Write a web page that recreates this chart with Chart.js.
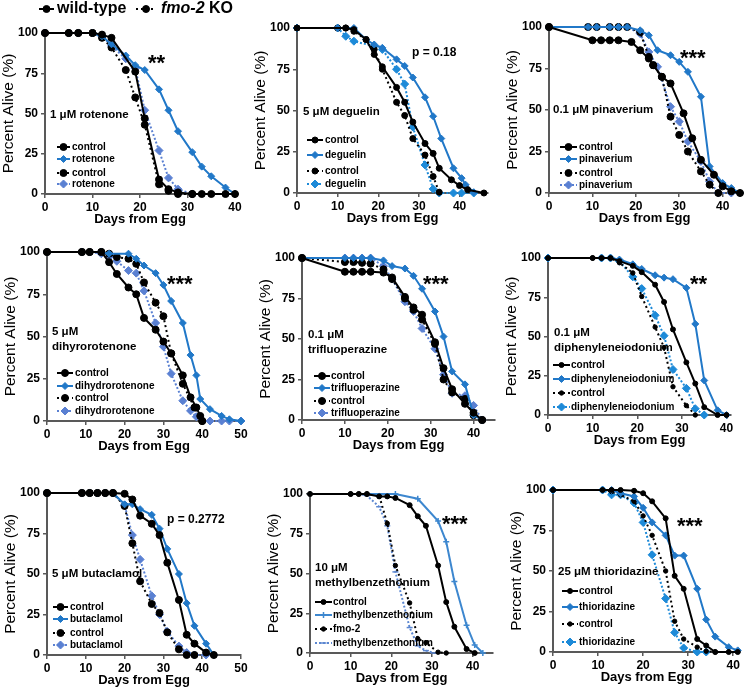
<!DOCTYPE html>
<html><head><meta charset="utf-8">
<script src="https://cdn.jsdelivr.net/npm/chart.js@4.4.1/dist/chart.umd.min.js"></script>
<style>
html,body{margin:0;padding:0;background:#fff;width:746px;height:687px;overflow:hidden;position:relative}
canvas{position:absolute}
</style></head><body>
<script>
// ---------------- data ----------------
const xTickValues = [0, 10, 20, 30, 40, 50];
const yTickValues = [0, 25, 50, 75, 100];
const headerNames = ['wild-type', 'fmo-2', ' KO'];
const drugLabels = [
  ['1 μM rotenone'], ['5 μM deguelin'], ['0.1 μM pinaverium'],
  ['5 μM', 'dihyrorotenone'], ['0.1 μM', 'trifluoperazine'], ['0.1 μM', 'diphenyleneiodonium'],
  ['5 μM butaclamol'], ['10 μM', 'methylbenzethonium'], ['25 μM thioridazine']
];
const legendTexts = [
  ['control', 'rotenone', 'control', 'rotenone'],
  ['control', 'deguelin', 'control', 'deguelin'],
  ['control', 'pinaverium', 'control', 'pinaverium'],
  ['control', 'dihydrorotenone', 'control', 'dihydrorotenone'],
  ['control', 'trifluoperazine', 'control', 'trifluoperazine'],
  ['control', 'diphenyleneiodonium', 'control', 'diphenyleneiodonium'],
  ['control', 'butaclamol', 'control', 'butaclamol'],
  ['control', 'methylbenzethonium', 'fmo-2', 'methylbenzethonium'],
  ['control', 'thioridazine', 'control', 'thioridazine']
];
const sigTexts = ['**', 'p = 0.18', '***', '***', '***', '**', 'p = 0.2772', '***', '***'];

// [day, percent alive]
const rotenoneWtControl = [[0,100],[5,100],[7,100],[10,100],[12,99],[14,97],[19,76],[21,47],[24,9],[26,3],[28,1],[31,0],[33,0],[35,0],[38,0],[40,0]];
const rotenoneWtDrug = [[0,100],[5,100],[7,100],[10,100],[12,98],[14,93],[17,86],[19,80],[21,77],[24,65],[26,52],[28,39],[31,26],[33,17],[35,11],[38,4],[40,0]];
const rotenoneFmoControl = [[0,100],[5,100],[7,100],[10,100],[12,97],[14,91],[17,77],[19,60],[21,43],[24,6],[26,2],[28,0],[31,0]];
const rotenoneFmoDrug = [[0,100],[5,100],[7,100],[10,100],[12,98],[14,92],[17,84],[19,78],[21,52],[24,27],[26,10],[28,3],[31,0]];

const deguelinWtControl = [[0,100],[12,100],[14,99],[17,93],[19,84],[21,76.5],[24.5,64],[26.5,55],[28.5,43],[31.5,30],[33.5,24],[35,15],[38,8],[40,4.5],[42,2],[46,0]];
const deguelinWtDrug = [[0,100],[10,100],[14,100],[17,93],[19,90],[21,88],[24.5,81],[26.5,77],[28.5,70],[31.5,58],[33.5,46.5],[35.5,33],[38.5,15],[40.5,9],[41.5,5],[43.5,0.5]];
const deguelinFmoControl = [[0,100],[10,100],[12,100],[14,98],[17,93],[19,87],[21,75],[24.5,55],[26.5,47],[28.5,33],[31.5,23],[33.5,10],[35,0.5]];
const deguelinFmoDrug = [[0,100],[10,100],[12,95],[14,92],[19,89],[21,87],[24.5,75],[26.5,66],[28.5,40],[31.5,17],[33.5,2.5],[35,0],[38.5,0],[40.5,0],[43.5,0]];

const pinaveriumWtControl = [[0,100],[10,92],[12,92],[14,92],[16,92],[19,91],[21,86],[23,81],[24,77],[26,70],[28,66],[31,48],[33,33],[35,20],[38,11],[40,4],[42,1],[44,0]];
const pinaveriumWtDrug = [[0,100],[9,100],[11,100],[14,100],[16,100],[18,100],[21,98],[23,95],[25,86],[28,83],[30,79],[32,73],[35,58],[37,16],[40,6],[42,3],[44,0]];
const pinaveriumFmoControl = [[0,100],[9,100],[11,100],[14,100],[16,100],[18,100],[21,97],[23,82],[24,77],[26,70],[28,46],[30,35],[32,25],[35,13],[37,5],[39,0]];
const pinaveriumFmoDrug = [[0,100],[9,100],[11,100],[14,100],[16,100],[18,100],[21,96],[23,85],[25,76],[28,52],[30,43],[32,31],[35,19],[37,7],[39,0],[42,0]];

const dihydroWtControl = [[0,100],[9,100],[11,100],[14,100],[16,94],[18,87],[21,79],[23,75],[25,61],[28,54],[30,47],[32,40],[35,27],[37,14],[38.5,8],[39.5,3],[40,0]];
const dihydroWtDrug = [[0,100],[9,100],[11,100],[14,100],[16,99],[21,99],[23,96],[25,92],[28,87.5],[30,80.5],[32,71],[35,58],[37,39],[38.5,27],[39.5,13],[42,7],[45,3],[47,1],[50,0]];
const dihydroFmoControl = [[0,100],[9,100],[11,100],[14,100],[16,99],[18,97],[21,96],[23,93],[25,82],[28,70],[30,62],[32,40],[35,22],[38,8],[40,0]];
const dihydroFmoDrug = [[0,100],[9,100],[11,100],[14,99],[16,97],[18,94.5],[21,89],[23,87.5],[25,77],[28,58],[30,44],[32,28],[35,12],[37,6],[38.5,2.5],[40,0],[42,0],[45,0],[47,0],[50,0]];

const trifluoWtControl = [[0,100],[10,91.5],[12,91.5],[14,91.5],[16,91.5],[19,91],[21,88],[24,76],[26,69.5],[28,65],[31,48],[33,32],[35,19],[38,10],[40,4.5],[42,0]];
const trifluoWtDrug = [[0,100],[10,100],[12,100],[14,100],[16,100],[19,98.5],[21,95],[24,93.5],[26,89],[28,81],[31,67],[33,51.5],[35,30],[38,22],[40,3],[42,0]];
const trifluoFmoControl = [[0,100],[10,97.5],[12,97.5],[14,97],[16,96.5],[19,93],[21,87],[24,75],[26,68],[28,62],[31,47],[33,25],[35,17],[38,13],[40,3],[42,0]];
const trifluoFmoDrug = [[0,100],[10,100],[12,100],[14,100],[16,100],[19,95],[21,87],[24,73],[26,67],[28,56.5],[31,44],[33,28],[35,16.5],[38,15],[40,9],[42,0]];

const dpiWtControl = [[0,100],[10,100],[12,100],[14,100],[16,98],[19,95],[21,91],[24,83],[26,72],[28,54.5],[31,33.5],[33,20],[35,5],[38,0],[40,0]];
const dpiWtDrug = [[0,100],[12,100],[14,100],[16,99],[19,96],[21,93],[24,89],[26,87.5],[28,86.5],[31,81],[33,58],[35,22],[38,3],[40,0]];
const dpiFmoControl = [[0,100],[10,100],[12,100],[14,100],[16,97],[19,90.5],[21,75.5],[24,56],[26,43],[28,18],[31,6],[33,0]];
const dpiFmoDrug = [[0,100],[12,100],[14,100],[16,98],[19,88],[21,80.5],[24,63.5],[26,50.5],[28,29],[31,17],[33,4],[35,0]];

const butaWtControl = [[0,100],[9,100],[11,100],[13,100],[15,100],[17,100],[20,99.5],[22,96],[24,86],[27,81],[29,74],[31,57],[34,34],[36,12.5],[38,7],[41,1.5],[43,0]];
const butaWtDrug = [[0,100],[9,100],[11,100],[13,100],[15,100],[17,100],[20,93],[22,93],[24,90],[27,86.5],[29,78],[31,65.5],[34,50],[36,32],[38,18],[41,7],[43,0]];
const butaFmoControl = [[0,100],[9,100],[11,100],[13,100],[15,100],[17,100],[20,92],[22,69],[24,45.5],[27,31.5],[29,26],[31,14],[34,3.5],[36,0],[38,0]];
const butaFmoDrug = [[0,100],[9,100],[11,100],[13,100],[15,100],[17,100],[20,92.5],[22,74],[24,59],[27,36.5],[29,25],[31,14.5],[34,5.5],[36,1.5],[38,0],[41,0]];

const mbzWtControl = [[0,100],[10,100],[12,100],[14,100],[17,98.5],[19,98.5],[21,97.5],[24.5,93],[26.5,86],[28.5,80],[31.5,55],[33.5,32],[35.5,16.5],[38.5,2.5],[40.5,0]];
const mbzWtDrug = [[0,100],[21,100],[26.5,97],[31.5,83],[33.5,70],[35.5,45],[38.5,17.5],[40.5,5],[42.5,0]];
const mbzFmoControl = [[0,100],[10,100],[12,100],[14,100],[17,99],[19,81.5],[21,55],[24.5,31.5],[26.5,9],[28.5,6.5],[31.5,0.5],[33.5,0]];
const mbzFmoDrug = [[0,100],[12,100],[14,99],[17,92],[19,80],[21,51],[24.5,16],[26.5,4.5],[28.5,1.5],[30.5,0]];

const thioWtControl = [[0,100],[11,100],[13,100],[15,100],[18,99.5],[20,98],[22,93],[25,82.5],[27,47],[29,39],[32,8],[34,4],[36,0],[39,0],[41,0]];
const thioWtDrug = [[0,100],[11,100],[13,100],[15,98],[18,96],[20,89],[22,80],[25,72],[27,59.5],[29,59.5],[32,39],[34,20],[36,9.5],[39,3],[41,1]];
const thioFmoControl = [[0,100],[11,100],[13,99],[15,97],[18,93],[20,84],[22,72],[25,50],[27,19],[29,8],[32,3],[34,0.5],[36,0]];
const thioFmoDrug = [[0,100],[11,100],[13,97],[15,97],[18,92],[20,80],[22,60],[25,33],[27,12],[29,2.5],[32,0],[34,0]];

// ---------------- styles ----------------
const FONT = '"Liberation Sans", Arial, Helvetica, sans-serif';
const AXIS = '#595959';
const S = {
  wtCtrl:   {color:'#000000', dash:[],    ps:'circle',  r:3.5},
  wtCtrlM:  {color:'#000000', dash:[],    ps:'circle',  r:3},
  wtCtrlSm: {color:'#000000', dash:[],    ps:'circle',  r:2.5},
  wtDrug:   {color:'#2178c8', dash:[],    ps:'rectRot', r:3.5},
  fmoCtrl:  {color:'#000000', dash:[2,3], ps:'circle',  r:3.5},
  fmoCtrlM: {color:'#000000', dash:[2,3], ps:'circle',  r:3},
  fmoCtrlSm:{color:'#000000', dash:[2,3], ps:'circle',  r:2.2},
  fmoDrug:  {color:'#5a80d2', dash:[2,2], ps:'rectRot', r:4},
  fmoDrugB: {color:'#1d8ad8', dash:[2,2], ps:'rectRot', r:4},
  mbzDrug:  {color:'#3d87cf', dash:[],    ps:'cross',   r:3},
  mbzFmo:   {color:'#5b86d0', dash:[2,2], ps:'line',    r:3}
};
const STD = [S.wtCtrl, S.wtDrug, S.fmoCtrl, S.fmoDrug];

const panels = [
  {geo:{ax:45, top:33, bottom:194, right:235, xmax:40, pr:12}, header:true,
   series:[rotenoneWtControl, rotenoneWtDrug, rotenoneFmoControl, rotenoneFmoDrug], styles:STD,
   labelPos:[5,82], sigPos:[103,24], leg:{x1:12, x2:25, tx:27, rows:[114,126,140,151]}},
  {geo:{ax:297, top:28, bottom:193, right:488, xmax:47, pr:6},
   series:[deguelinWtControl, deguelinWtDrug, deguelinFmoControl, deguelinFmoDrug], styles:[S.wtCtrlM, S.wtDrug, S.fmoCtrlM, S.fmoDrugB],
   labelPos:[6,84], sigPos:[115,25], leg:{x1:10, x2:26, tx:28, rows:[112,127,143,156]}},
  {geo:{ax:549, top:27, bottom:193, right:741, xmax:44, pr:4},
   series:[pinaveriumWtControl, pinaveriumWtDrug, pinaveriumFmoControl, pinaveriumFmoDrug], styles:STD,
   labelPos:[4,83], sigPos:[131,25], leg:{x1:11, x2:28, tx:30, rows:[120,132,146,158]}},
  {geo:{ax:47, top:252, bottom:421, right:241, xmax:50, pr:12},
   series:[dihydroWtControl, dihydroWtDrug, dihydroFmoControl, dihydroFmoDrug], styles:STD,
   labelPos:[5,80], sigPos:[120,26], leg:{x1:10, x2:26, tx:28, rows:[121,134,146,159]}},
  {geo:{ax:302, top:258, bottom:420, right:495, xmax:45, pr:5},
   series:[trifluoWtControl, trifluoWtDrug, trifluoFmoControl, trifluoFmoDrug], styles:STD,
   labelPos:[6,77], sigPos:[121,20], leg:{x1:12, x2:28, tx:29, rows:[118,130,143,155]}},
  {geo:{ax:548, top:258, bottom:415, right:731, xmax:41, pr:8},
   series:[dpiWtControl, dpiWtDrug, dpiFmoControl, dpiFmoDrug], styles:[S.wtCtrlSm, S.wtDrug, S.fmoCtrlSm, S.fmoDrugB],
   labelPos:[6,75], sigPos:[142,20], leg:{x1:5, x2:22, tx:23, rows:[107,121,135,149]}},
  {geo:{ax:47, top:493, bottom:655, right:241, xmax:50, pr:12},
   series:[butaWtControl, butaWtDrug, butaFmoControl, butaFmoDrug], styles:STD,
   labelPos:[5,81], sigPos:[120,27], leg:{x1:6, x2:21, tx:23, rows:[114,126,140,152]}},
  {geo:{ax:310, top:494, bottom:653, right:493, xmax:45, pr:6},
   series:[mbzWtControl, mbzWtDrug, mbzFmoControl, mbzFmoDrug], styles:[S.wtCtrlSm, S.mbzDrug, S.fmoCtrlSm, S.mbzFmo],
   labelPos:[5,74], sigPos:[132,24], leg:{x1:5, x2:22, tx:23, rows:[108,121,135,149]}},
  {geo:{ax:553, top:490, bottom:652, right:740, xmax:41.5, pr:5},
   series:[thioWtControl, thioWtDrug, thioFmoControl, thioFmoDrug], styles:[S.wtCtrlSm, S.wtDrug, S.fmoCtrlSm, S.fmoDrugB],
   labelPos:[5,82], sigPos:[124,30], leg:{x1:9, x2:25, tx:26, rows:[101,117,134,152]}}
];

const Y_W = 46, X_H = 33;

function sample(ctx, ds, x1, x2, y) {
  ctx.save();
  ctx.strokeStyle = ds.borderColor; ctx.lineWidth = ds.borderWidth;
  ctx.setLineDash(ds.borderDash || []);
  ctx.beginPath(); ctx.moveTo(x1, y); ctx.lineTo(x2, y); ctx.stroke();
  ctx.setLineDash([]);
  ctx.fillStyle = ds.pointBackgroundColor; ctx.strokeStyle = ds.pointBorderColor; ctx.lineWidth = ds.pointBorderWidth;
  Chart.helpers.drawPoint(ctx, {pointStyle: ds.pointStyle, radius: ds.pointRadius, borderWidth: ds.pointBorderWidth, rotation: 0}, (x1 + x2) / 2, y);
  ctx.restore();
}

const decor = {
  id: 'decor',
  afterDraw(chart, args, o) {
    const {ctx, chartArea: a} = chart;
    const dsets = chart.data.datasets;
    ctx.save();
    ctx.fillStyle = '#000'; ctx.textAlign = 'left'; ctx.textBaseline = 'middle';
    // drug label
    ctx.font = 'bold 11.5px ' + FONT;
    o.label.forEach((t, i) => ctx.fillText(t, a.left + o.labelPos[0], a.top + o.labelPos[1] + i * 14.5));
    // significance
    if (o.sig.startsWith('*')) {
      ctx.font = 'bold 22px ' + FONT; ctx.textBaseline = 'alphabetic';
      ctx.fillText(o.sig, a.left + o.sigPos[0], a.top + o.sigPos[1] + 12.6);
    } else {
      ctx.font = 'bold 12px ' + FONT; ctx.textBaseline = 'middle';
      ctx.fillText(o.sig, a.left + o.sigPos[0], a.top + o.sigPos[1]);
    }
    // legend
    ctx.font = 'bold 10px ' + FONT; ctx.textBaseline = 'middle';
    o.leg.rows.forEach((ry, i) => {
      const y = a.top + ry;
      sample(ctx, dsets[i], a.left + o.leg.x1, a.left + o.leg.x2, y);
      ctx.fillStyle = '#000';
      ctx.fillText(o.legTexts[i], a.left + o.leg.tx, y);
    });
    // header (wild-type / fmo-2 KO)
    if (o.header) {
      const y = 9;
      sample(ctx, dsets[0], 40, 55, y);
      ctx.fillStyle = '#000';
      ctx.font = 'bold 16px ' + FONT;
      ctx.fillText(headerNames[0], 58, y);
      sample(ctx, dsets[2], 137, 157, y);
      ctx.fillStyle = '#000';
      ctx.font = 'italic bold 16px ' + FONT;
      ctx.fillText(headerNames[1], 162, y);
      const w = ctx.measureText(headerNames[1]).width;
      ctx.font = 'bold 16px ' + FONT;
      ctx.fillText(headerNames[2], 162 + w, y);
    }
    ctx.restore();
  }
};

panels.forEach((p, k) => {
  const g = p.geo;
  const cl = g.ax - Y_W;
  const ct = p.header ? 0 : g.top - 14;
  const cw = g.right + g.pr - cl;
  const ch = g.bottom + X_H - ct;
  const cv = document.createElement('canvas');
  cv.width = cw; cv.height = ch;
  cv.style.left = cl + 'px'; cv.style.top = ct + 'px';
  cv.style.width = cw + 'px'; cv.style.height = ch + 'px';
  document.body.appendChild(cv);

  const datasets = p.series.map((s, i) => {
    const st = p.styles[i];
    return {
      data: s.map(([x, y]) => ({x, y})),
      borderColor: st.color, backgroundColor: st.color,
      pointBackgroundColor: st.color, pointBorderColor: st.color,
      borderWidth: 2, borderDash: st.dash, pointStyle: st.ps,
      pointRadius: st.r, pointHoverRadius: st.r, pointBorderWidth: st.ps === 'cross' || st.ps === 'line' ? 1.5 : 1,
      tension: 0, fill: false, clip: false
    };
  });

  new Chart(cv, {
    type: 'line',
    data: {datasets},
    plugins: [decor],
    options: {
      responsive: false, animation: false, devicePixelRatio: 1,
      layout: {padding: {left: 0, top: g.top - ct, right: g.pr, bottom: 0}},
      plugins: {
        legend: {display: false}, tooltip: {enabled: false},
        decor: {header: !!p.header, label: drugLabels[k], labelPos: p.labelPos, sig: sigTexts[k], sigPos: p.sigPos, leg: p.leg, legTexts: legendTexts[k]}
      },
      scales: {
        x: {
          type: 'linear', min: 0, max: g.xmax,
          afterBuildTicks: (s) => { s.ticks = xTickValues.filter(v => v <= g.xmax).map(v => ({value: v})); },
          afterFit: (s) => { s.height = X_H; },
          ticks: {font: {family: FONT, size: 12, weight: 'bold'}, color: '#000', padding: 2, maxRotation: 0, autoSkip: false},
          grid: {display: true, drawOnChartArea: false, drawTicks: true, tickLength: 4, color: AXIS, lineWidth: 1.5},
          border: {display: true, color: AXIS, width: 2},
          title: {display: true, text: 'Days from Egg', color: '#000', font: {family: FONT, size: 13, weight: 'bold'}, padding: 0}
        },
        y: {
          min: 0, max: 100,
          afterBuildTicks: (s) => { s.ticks = yTickValues.map(v => ({value: v})); },
          afterFit: (s) => { s.width = Y_W; },
          ticks: {font: {family: FONT, size: 12, weight: 'bold'}, color: '#000', padding: 3},
          grid: {display: true, drawOnChartArea: false, drawTicks: true, tickLength: 4, color: AXIS, lineWidth: 1.5},
          border: {display: true, color: AXIS, width: 2},
          title: {display: true, text: 'Percent Alive (%)', color: '#000', font: {family: FONT, size: 15.5}, padding: 0}
        }
      }
    }
  });
});
</script>
</body></html>
